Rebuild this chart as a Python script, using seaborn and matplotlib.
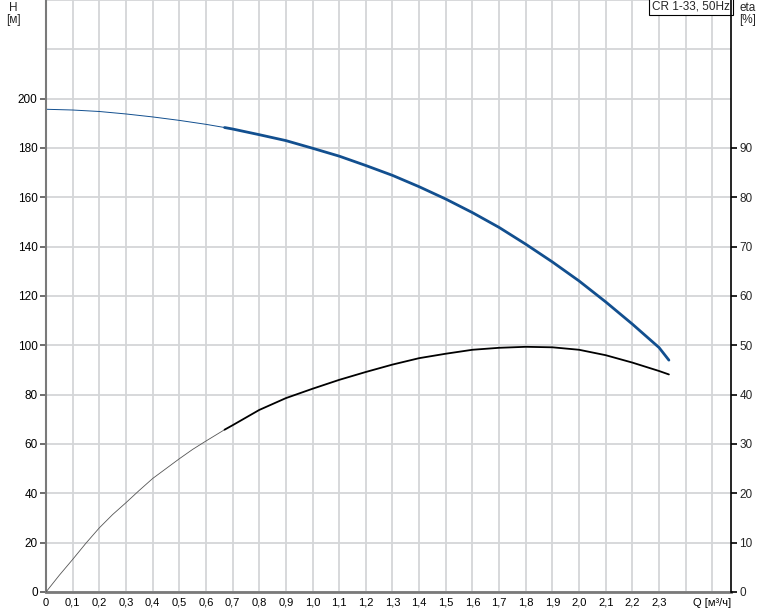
import numpy as np
import pandas as pd
import matplotlib
matplotlib.use("Agg")
import matplotlib.pyplot as plt
import seaborn as sns

# ---- data ----
q_head = [0.0, 0.1, 0.2, 0.3, 0.4, 0.5, 0.6, 0.67, 0.7, 0.8, 0.9, 1.0, 1.1, 1.2, 1.3, 1.4,
          1.5, 1.6, 1.7, 1.8, 1.9, 2.0, 2.1, 2.2, 2.3, 2.337]
head = [195.7, 195.4, 194.8, 193.8, 192.6, 191.2, 189.6, 188.3, 187.7, 185.4, 183.0, 179.9,
        176.7, 172.9, 168.9, 164.3, 159.3, 153.8, 147.8, 141.0, 133.8, 126.1, 117.6, 108.6,
        99.1, 94.0]

q_eta = [0.0, 0.05, 0.1, 0.15, 0.2, 0.25, 0.3, 0.35, 0.4, 0.45, 0.5, 0.55, 0.6, 0.67, 0.7,
         0.8, 0.9, 1.0, 1.1, 1.2, 1.3, 1.4, 1.5, 1.6, 1.7, 1.8, 1.9, 2.0, 2.1, 2.2, 2.3, 2.337]
eta = [0.0, 3.4, 6.6, 9.9, 13.0, 15.7, 18.1, 20.6, 23.0, 25.0, 27.0, 28.9, 30.6, 32.9, 33.8,
       36.9, 39.3, 41.2, 43.0, 44.6, 46.1, 47.4, 48.3, 49.1, 49.5, 49.7, 49.6, 49.1, 48.0,
       46.5, 44.8, 44.1]

x_ticks = [round(0.1 * i, 1) for i in range(26)]
x_labels = ["0"] + [f"{v:.1f}".replace(".", ",") for v in x_ticks[1:24]] + ["", "Q [м³/ч]"]
h_ticks = list(range(0, 241, 20))
h_labels = [str(v) for v in range(0, 201, 20)] + ["", ""]
eta_ticks = list(range(0, 91, 10))
title_box = "CR 1-33, 50Hz"
split_q = 0.67

sns.set_style("white")
plt.rcParams["font.family"] = ["Liberation Sans", "DejaVu Sans"]
plt.rcParams["font.size"] = 8.5

fig = plt.figure(figsize=(7.74, 6.11), dpi=100)
ax = fig.add_axes([46 / 774, 19 / 611, (731 - 46) / 774, 592 / 611])
ax2 = ax.twinx()

dfh = pd.DataFrame({"Q": q_head, "H": head})
dfe = pd.DataFrame({"Q": q_eta, "eta": eta})

blue = "#124f8f"
sns.lineplot(data=dfh[dfh.Q <= split_q], x="Q", y="H", ax=ax, color=blue, lw=0.7, sort=True)
sns.lineplot(data=dfh[dfh.Q >= split_q], x="Q", y="H", ax=ax, color=blue, lw=2.0, sort=True)
sns.lineplot(data=dfe[dfe.Q <= split_q], x="Q", y="eta", ax=ax2, color="#555555", lw=0.6, sort=True)
sns.lineplot(data=dfe[dfe.Q >= split_q], x="Q", y="eta", ax=ax2, color="black", lw=1.3, sort=True)

ax.set_xlim(0, 2.57)
ax.set_ylim(0, 240)
ax2.set_ylim(0, 120)
ax.set_xlabel("")
ax.set_ylabel("")
ax2.set_ylabel("")

ax.set_xticks(x_ticks)
ax.set_xticklabels(x_labels)
ax.set_yticks(h_ticks)
ax.set_yticklabels(h_labels)
ax2.set_yticks(eta_ticks)
ax2.set_yticklabels([str(v) for v in eta_ticks])

ax.grid(True, which="major", axis="both", color="#d4d6d8", lw=1.3)
ax.set_axisbelow(True)
ax2.grid(False)

for a in (ax, ax2):
    a.spines["top"].set_visible(False)
ax.spines["left"].set_color("#7a7a7a")
ax.spines["left"].set_linewidth(1.5)
ax.spines["bottom"].set_color("#7a7a7a")
ax.spines["bottom"].set_linewidth(2.0)
ax.spines["right"].set_visible(False)
ax2.spines["left"].set_visible(False)
ax2.spines["bottom"].set_visible(False)
ax2.spines["right"].set_color("black")
ax2.spines["right"].set_linewidth(1.2)

ax.tick_params(axis="y", which="major", direction="out", length=4, width=1.2,
               color="#555555", labelsize=8.5, labelcolor="black", pad=2)
ax.tick_params(axis="x", which="major", direction="out", length=3, width=1.2,
               color="#555555", labelsize=8, labelcolor="black", pad=1)
ax2.tick_params(axis="y", direction="out", length=4, width=1.2, color="black",
                labelsize=8.5, pad=2)
for t in ax.yaxis.get_major_ticks()[-2:]:
    t.tick1line.set_visible(False)

ax.text(0.9985, 0.9995, title_box, transform=ax.transAxes, ha="right", va="top",
        fontsize=8.5, bbox=dict(boxstyle="square,pad=0.25", fc="white", ec="black", lw=0.8),
        zorder=10)

fig.text(13 / 774, 1 - 8 / 611, "H", ha="center", va="center", fontsize=8.5)
fig.text(13 / 774, 1 - 20 / 611, "[м]", ha="center", va="center", fontsize=8.5)
fig.text(748 / 774, 1 - 8 / 611, "eta", ha="center", va="center", fontsize=8.5)
fig.text(748 / 774, 1 - 20 / 611, "[%]", ha="center", va="center", fontsize=8.5)

fig.savefig("out.png", dpi=100)
